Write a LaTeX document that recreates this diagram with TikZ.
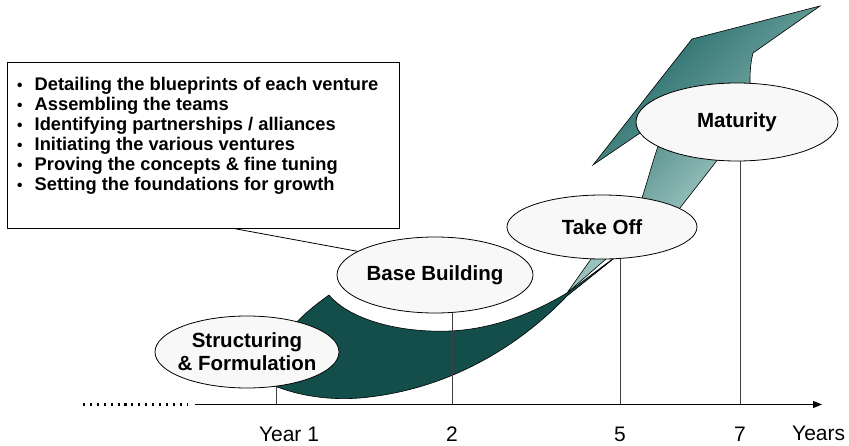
\documentclass[tikz,border=0pt]{standalone}
\usepackage{fontspec}
\setmainfont{Liberation Sans}
\usetikzlibrary{shapes.geometric,arrows.meta,backgrounds}

\definecolor{bandDark}{HTML}{144E4B}
\definecolor{bandMid}{HTML}{5F9693}
\definecolor{bandLight}{HTML}{A3CAC6}
\definecolor{headDark}{HTML}{17605D}
\definecolor{headLight}{HTML}{8CBAB6}
\definecolor{bubble}{HTML}{F7F8F7}

\newcommand{\bulletitem}{\makebox[17.5pt][l]{\fontsize{15.5}{15.5}\selectfont•}}

\tikzset{
  phase/.style={ellipse, draw=black, line width=0.8pt, fill=bubble, inner sep=0pt},
  tag/.style={align=center, inner sep=0pt, font=\fontsize{20.5}{23}\selectfont\bfseries},
  ribbon/.style={draw=black, line width=0.6pt},
  yearline/.style={draw=black!75, line width=0.9pt},
  yearlabel/.style={anchor=base, inner sep=0pt, font=\fontsize{21}{24}\selectfont},
}

\begin{document}
\begin{tikzpicture}[x=1pt,y=1pt]
  \useasboundingbox (0,0) rectangle (849,445);

  % the four phases
  \node[phase, minimum width=184pt, minimum height=72pt,
        label={[tag]center:Structuring\\\& Formulation}] (sf) at (247,93) {};
  \node[phase, minimum width=196pt, minimum height=76pt,
        label={[tag]center:Base Building}] (bb) at (435,170) {};
  \node[phase, minimum width=190pt, minimum height=64pt,
        label={[tag]center:Take Off}] (to) at (602,218) {};
  \node[phase, minimum width=202pt, minimum height=78pt,
        label={[tag]center:Maturity}] (mat) at (737,323) {};

  % time axis
  \coordinate (dotsL) at (83,40.5);
  \coordinate (dotsR) at (188,40.5);
  \coordinate (axisL) at (195,40.5);
  \coordinate (axisR) at (822,40.5);
  \coordinate (y1) at (276,40.5);
  \coordinate (y2) at (452,40.5);
  \coordinate (y5) at (620,40.5);
  \coordinate (y7) at (740,40.5);
  \draw[line width=2.1pt, dash pattern=on 2.1pt off 4.8pt] (dotsL) -- (dotsR);
  \draw[line width=0.9pt, -{Triangle[length=9pt,width=7pt]}] (axisL) -- (axisR);

  \node[yearlabel] (l1) at (289,4) {Year 1};
  \node[yearlabel] (l2) at (452,4) {2};
  \node[yearlabel] (l5) at (620,4) {5};
  \node[yearlabel] (l7) at (740,4) {7};
  \node[yearlabel, anchor=base west] (lyears) at (792,5) {Years};

  % what happens in the first phases
  \node[draw, line width=0.8pt, minimum width=392pt, minimum height=166pt,
        anchor=north west, inner sep=0pt] (notes) at (7,383) {};
  \node[anchor=north west, align=left, inner sep=0pt,
        font=\fontsize{18.3}{20}\selectfont\bfseries] (items) at (17,368) {%
    \bulletitem Detailing the blueprints of each venture\\
    \bulletitem Assembling the teams\\
    \bulletitem Identifying partnerships / alliances\\
    \bulletitem Initiating the various ventures\\
    \bulletitem Proving the concepts \& fine tuning\\
    \bulletitem Setting the foundations for growth};
  \draw[line width=0.8pt] ([xshift=32pt]notes.south) -- (bb.163);

  \begin{scope}[on background layer]
    % dark lower band
    \draw[ribbon, fill=bandDark] (329,150)
      .. controls (350,125) and (400,112) .. (450,114)
      .. controls (495,116) and (535,133) .. (567,152)
      -- (622,193) -- (567,149)
      .. controls (520,100) and (450,55) .. (360,47)
      .. controls (320,44) and (285,52) .. (255,68)
      -- (290,115)
      .. controls (300,128) and (315,140) .. (329,150) -- cycle;
    % twist up to take off
    \draw[ribbon, fill=bandLight!85!bandMid] (567,152) -- (596,193) -- (614,193) -- cycle;
    % between take off and maturity
    \draw[ribbon, top color=bandMid, bottom color=bandLight, shading angle=45]
      (637,233) .. controls (648,262) and (652,285) .. (662,309)
      -- (726,296) -- (669,223) -- cycle;
    % arrow head
    \draw[ribbon, top color=headDark, bottom color=headLight, shading angle=45]
      (593,280) -- (692,406) -- (820,439) -- (753,392)
      .. controls (750,380) and (750,370) .. (750,362)
      -- (745,330) -- (700,305) -- (643,314) -- cycle;
    % year marks
    \draw[yearline] (y1) -- (y1 |- sf.center);
    \draw[yearline] (y2) -- (y2 |- bb.center);
    \draw[yearline] (y5) -- (y5 |- to.center);
    \draw[yearline] (y7) -- (y7 |- mat.center);
  \end{scope}
\end{tikzpicture}
\end{document}
